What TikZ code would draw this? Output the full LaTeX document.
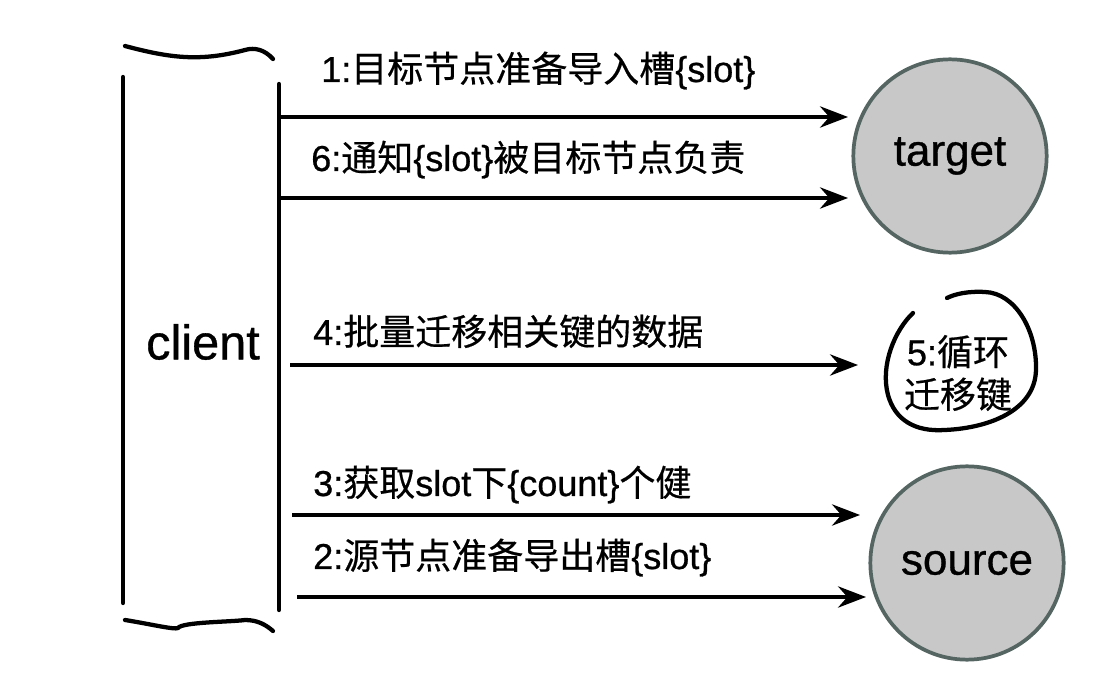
\documentclass[tikz,border=0pt]{standalone}
\usepackage{fontspec}
\setmainfont{Liberation Sans}[FakeBold=0.7]
\newfontfamily\cjk{Noto Sans CJK SC}[FakeBold=0.5]
\usetikzlibrary{arrows.meta}
\definecolor{nodefill}{HTML}{C8C8C8}
\definecolor{nodeline}{HTML}{556562}
\tikzset{
  msg/.style={line width=2.6pt, -{Stealth[length=21pt,width=16pt,inset=7pt]}},
  lbl/.style={anchor=base west, inner sep=0pt, font=\fontsize{27pt}{30pt}\selectfont},
  server/.style={circle, fill=nodefill, draw=nodeline, line width=2.8pt, minimum size=145pt, inner sep=0pt, font=\fontsize{33pt}{36pt}\selectfont},
  pen/.style={line width=3.2pt, line cap=round, line join=round},
}
\begin{document}
\begin{tikzpicture}[x=0.75pt, y=-0.75pt]
\useasboundingbox (0,0) rectangle (1101,684);
% client bracket
\draw[pen] (123,77) -- (123,603);
\draw[pen] (279,84) -- (279,610);
\draw[pen] (125,46) .. controls (170,58) and (200,62) .. (245,50) .. controls (255,47) and (265,50) .. (273,59);
\draw[pen] (125,620) .. controls (150,624) and (175,630) .. (178,628) .. controls (182,622) and (230,622) .. (245,620) .. controls (258,620) and (266,625) .. (273,631);
\node[inner sep=0pt, font=\fontsize{36.5pt}{40pt}\selectfont] (client) at (203,342) {client};

% servers
\node[server] (target) at (950,156) {target};
\node[server] (source) at (967,563) {source};

% loop
\node[inner sep=0pt, align=center, font=\fontsize{27pt}{32pt}\selectfont] (loop) at (958,373) {5:{\cjk 循环}\\{\cjk 迁移键}};
\draw[pen] (913,313) .. controls (895,330) and (880,365) .. (888,395) .. controls (895,420) and (915,432) .. (945,430) .. controls (990,428) and (1035,410) .. (1036,370) .. controls (1037,330) and (1015,293) .. (985,292) .. controls (968,291) and (955,294) .. (947,298);

% start / end coordinates
\coordinate (s1) at (279,117);
\coordinate (e1) at (848,117);
\coordinate (s6) at (279,198);
\coordinate (e6) at (848,198);
\coordinate (s4) at (290,365);
\coordinate (e4) at (858,365);
\coordinate (s3) at (292,515);
\coordinate (e3) at (860,515);
\coordinate (s2) at (297,597);
\coordinate (e2) at (866,597);

\draw[msg] (s1) -- (e1);
\draw[msg] (s6) -- (e6);
\draw[msg] (s4) -- (e4);
\draw[msg] (s3) -- (e3);
\draw[msg] (s2) -- (e2);

% labels
\node[lbl] (l1) at (321,82) {1:{\cjk 目标节点准备导入槽}\{slot\}};
\node[lbl] (l6) at (311,171) {6:{\cjk 通知}\{slot\}{\cjk 被目标节点负责}};
\node[lbl] (l4) at (313,345) {4:{\cjk 批量迁移相关键的数据}};
\node[lbl] (l3) at (313,496) {3:{\cjk 获取}slot{\cjk 下}\{count\}{\cjk 个健}};
\node[lbl] (l2) at (313,569) {2:{\cjk 源节点准备导出槽}\{slot\}};
\end{tikzpicture}
\end{document}
